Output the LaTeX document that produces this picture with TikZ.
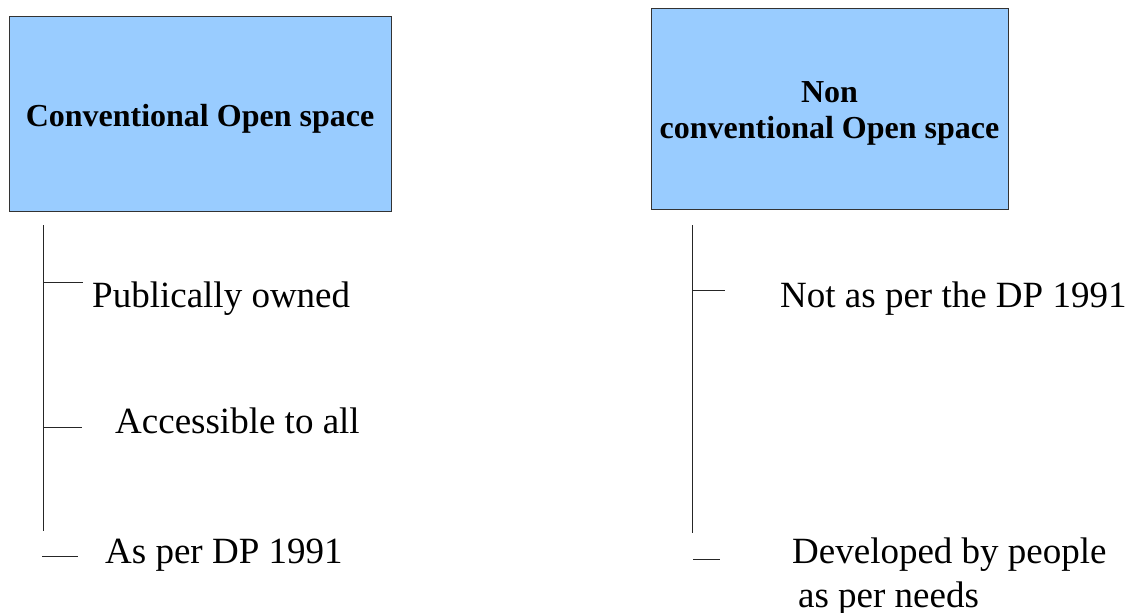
\documentclass[tikz,border=0pt]{standalone}
\usepackage{fontspec}
\setmainfont{Liberation Serif}
\usetikzlibrary{positioning}
\definecolor{boxblue}{HTML}{99CCFF}
\definecolor{boxline}{HTML}{333333}
\tikzset{
  % Category boxes
  spacebox/.style={
    draw=boxline, fill=boxblue, line width=1pt, inner sep=0pt
  },
  spacetitle/.style={
    align=center, inner sep=0pt,
    font=\fontsize{32}{36}\selectfont\bfseries
  },
  % Listed properties
  item/.style={
    anchor=base west, inner sep=0pt, align=left,
    font=\fontsize{37}{44}\selectfont
  },
  % Tree lines
  branch/.style={
    -, draw=black!85, line width=1pt
  },
}

\begin{document}
\begin{tikzpicture}[x=1pt, y=-1pt]
  \useasboundingbox (0,0) rectangle (1135,613);

  %% ── Boxes ──
  \node[spacebox, minimum width=382pt, minimum height=195pt] (conv)    at (200,113.5) {};
  \node[spacebox, minimum width=357pt, minimum height=201pt] (nonconv) at (829.5,108.5) {};
  \node[spacetitle] (convTitle)    at ([yshift=-5pt]conv.center)    {Conventional Open space};
  \node[spacetitle] (nonconvTitle) at ([yshift=-5pt]nonconv.center) {Non\\conventional Open space};

  %% ── Items — Conventional ──
  \node[item] (pub)    at (92,307)  {Publically owned};
  \node[item] (access) at (115,433) {Accessible to all};
  \node[item] (asdp)   at (105,563) {As per DP 1991};

  %% ── Items — Non conventional ──
  \node[item] (notdp)  at (780,307) {Not as per the DP 1991};
  \node[item] (devel)  at (792,607) {Developed by people\\\hspace*{6pt}as per needs};

  %% ── Line ends ──
  \coordinate (convTop)   at (43,225);
  \coordinate (convBot)   at (43,531);
  \coordinate (pubEnd)    at (83,282);
  \coordinate (accEnd)    at (82,427);
  \coordinate (asdpBeg)   at (42,556);
  \coordinate (asdpEnd)   at (78,556);
  \coordinate (nonTop)    at (692,225);
  \coordinate (nonBot)    at (692,533);
  \coordinate (notdpEnd)  at (725,290);
  \coordinate (develBeg)  at (693,559);
  \coordinate (develEnd)  at (720,559);

  %% ── Tree — Conventional ──
  \draw[branch] (convTop) -- (convBot);
  \draw[branch] (convTop |- pubEnd) -- (pubEnd);
  \draw[branch] (convTop |- accEnd) -- (accEnd);
  \draw[branch] (asdpBeg) -- (asdpEnd);

  %% ── Tree — Non conventional ──
  \draw[branch] (nonTop) -- (nonBot);
  \draw[branch] (nonTop |- notdpEnd) -- (notdpEnd);
  \draw[branch] (develBeg) -- (develEnd);

\end{tikzpicture}
\end{document}
